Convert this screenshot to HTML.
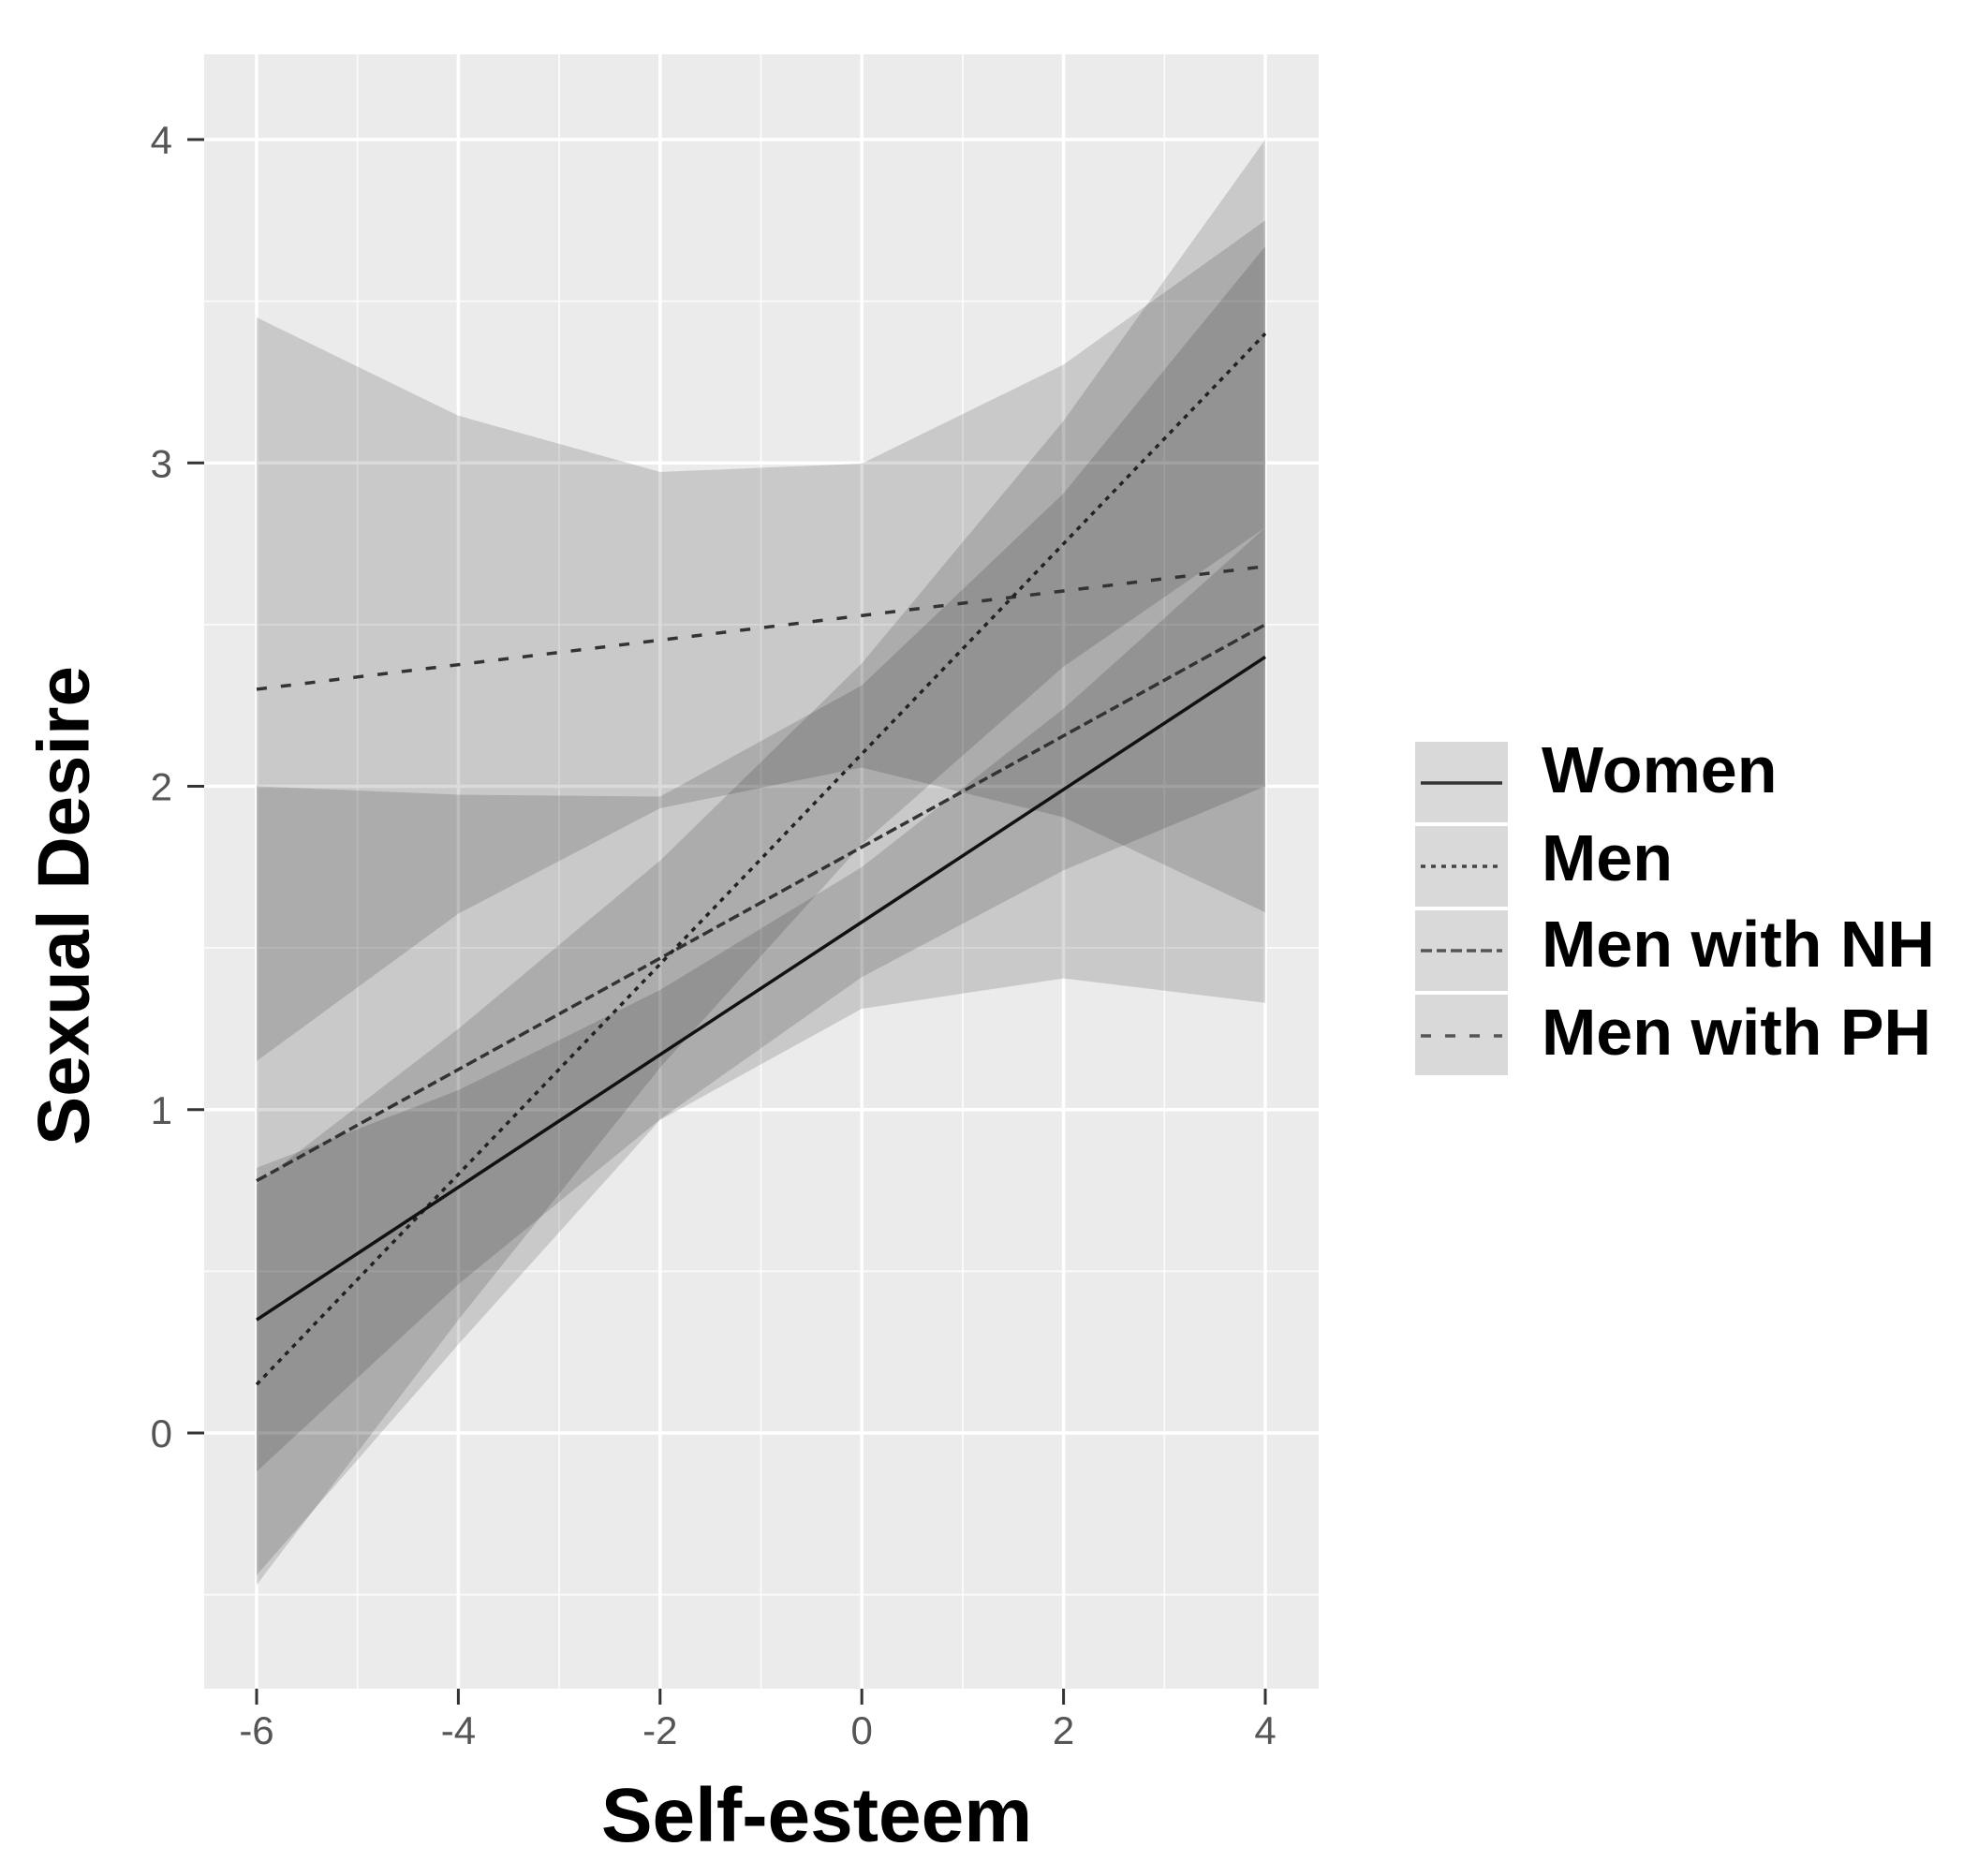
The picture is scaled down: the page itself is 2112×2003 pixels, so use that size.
<!DOCTYPE html>
<html><head><meta charset="utf-8"><style>
html,body{margin:0;padding:0;background:#fff;}
svg{display:block;}
</style></head><body>
<svg id="s" width="2112" height="2003" viewBox="0 0 2112 2003" xmlns="http://www.w3.org/2000/svg" font-family="Liberation Sans, sans-serif">
<rect x="0" y="0" width="2112" height="2003" fill="#fff"/>
<rect x="218" y="58" width="1190" height="1745" fill="#ebebeb"/>
<g id="grid"></g>
<g id="bands"></g>
<g id="lines"></g>
<g id="axes"></g>
<text x="74" y="967" font-size="78" font-weight="bold" fill="#000" text-anchor="middle" transform="rotate(-90 74 967)" dominant-baseline="middle">Sexual Desire</text>
<text x="872" y="1966" font-size="82" font-weight="bold" fill="#000" text-anchor="middle">Self-esteem</text>
<g id="legend">
<rect x="1511" y="792" width="99" height="86" fill="#d9d9d9"/>
<rect x="1511" y="882" width="99" height="86" fill="#d9d9d9"/>
<rect x="1511" y="972" width="99" height="86" fill="#d9d9d9"/>
<rect x="1511" y="1062" width="99" height="86" fill="#d9d9d9"/>
<line x1="1517" y1="836" x2="1604" y2="836" stroke="#333" stroke-width="3.5"/>
<line x1="1517" y1="925" x2="1604" y2="925" stroke="#444" stroke-width="3.5" stroke-dasharray="5,6"/>
<line x1="1517" y1="1015" x2="1604" y2="1015" stroke="#555" stroke-width="3.5" stroke-dasharray="12,5,10,5"/>
<line x1="1517" y1="1106" x2="1604" y2="1106" stroke="#555" stroke-width="3.5" stroke-dasharray="11,15"/>
<text x="1646" y="846" font-size="70" font-weight="bold" fill="#000">Women</text>
<text x="1646" y="940" font-size="70" font-weight="bold" fill="#000">Men</text>
<text x="1646" y="1032" font-size="70" font-weight="bold" fill="#000">Men with NH</text>
<text x="1646" y="1126" font-size="70" font-weight="bold" fill="#000">Men with PH</text>
</g>
</svg>
<script>
(function(){
var NS="http://www.w3.org/2000/svg";
function X(u){return 274+107.7*(u+6);}
function Y(v){return 1530-345.25*v;}
function el(p,t,a){var e=document.createElementNS(NS,t);for(var k in a)e.setAttribute(k,a[k]);document.getElementById(p).appendChild(e);return e;}
for(var v=-0.5;v<=4.01;v+=0.5){var major=Math.abs(v-Math.round(v))<0.01;
 el("grid","line",{x1:218,x2:1408,y1:Y(v),y2:Y(v),stroke:"#fff","stroke-width":major?3.5:1.8,opacity:major?1:0.8});}
for(var u=-6;u<=4.01;u+=1){var major=(Math.round(u)%2===0);
 el("grid","line",{y1:58,y2:1803,x1:X(u),x2:X(u),stroke:"#fff","stroke-width":major?3.5:1.8,opacity:major?1:0.8});}
var S=[
 {a:2.3,b:2.68,se:[1.15,0.77,0.52,0.47,0.7,1.07],dash:"11,15",col:"#333"},
 {a:0.78,b:2.5,se:[1.22,0.85,0.5,0.5,0.75,1.17],dash:"12,5,10,5",col:"#333"},
 {a:0.15,b:3.4,se:[0.62,0.45,0.32,0.28,0.38,0.6],dash:"5,6",col:"#222"},
 {a:0.35,b:2.4,se:[0.47,0.3,0.2,0.17,0.25,0.4],dash:"",col:"#111"}
];
function interp(se,x){var t=(x+6)/2;var i=Math.min(4,Math.floor(t));var f=t-i;return se[i]*(1-f)+se[i+1]*f;}
S.forEach(function(s){
 var up=[],lo=[];
 for(var x=-6;x<=4.001;x+=0.25){var c=s.a+(s.b-s.a)*(x+6)/10;var e=interp(s.se,x);
  up.push(X(x).toFixed(1)+","+Y(c+e).toFixed(1));lo.unshift(X(x).toFixed(1)+","+Y(c-e).toFixed(1));}
 el("bands","polygon",{points:up.concat(lo).join(" "),fill:"#000","fill-opacity":0.14});
});
S.forEach(function(s){
 var a={x1:X(-6),y1:Y(s.a),x2:X(4),y2:Y(s.b),stroke:s.col,"stroke-width":3.5};
 if(s.dash)a["stroke-dasharray"]=s.dash;
 el("lines","line",a);
});
[0,1,2,3,4].forEach(function(v){
 el("axes","line",{x1:200,x2:218,y1:Y(v),y2:Y(v),stroke:"#333","stroke-width":3});
 var t=el("axes","text",{x:184,y:Y(v)+15,"font-size":42,fill:"#555","text-anchor":"end"});t.textContent=v;
});
[-6,-4,-2,0,2,4].forEach(function(u){
 el("axes","line",{x1:X(u),x2:X(u),y1:1803,y2:1820,stroke:"#333","stroke-width":3});
 var t=el("axes","text",{x:X(u),y:1862,"font-size":42,fill:"#555","text-anchor":"middle"});t.textContent=u;
});
})();
</script>
</body></html>
